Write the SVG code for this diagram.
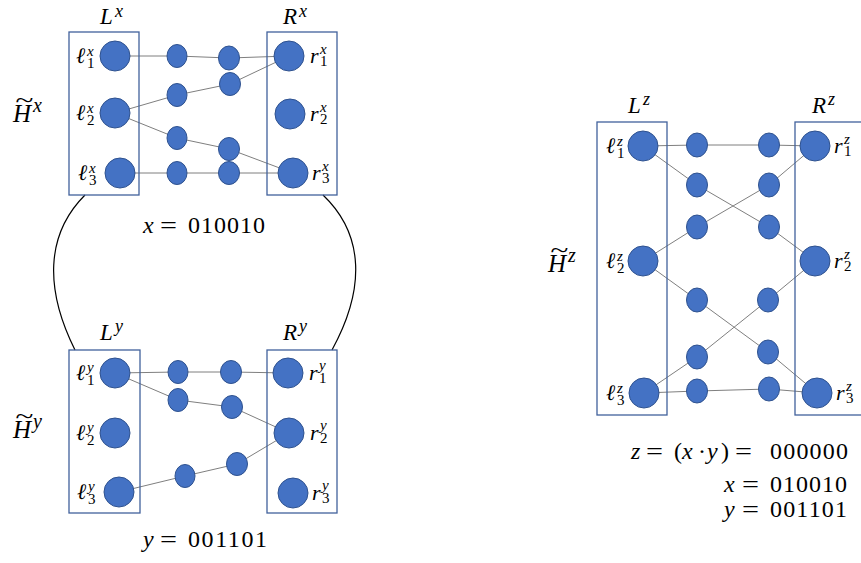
<svg xmlns="http://www.w3.org/2000/svg" width="861" height="563" viewBox="0 0 861 563">
<style>
text{font-family:"Liberation Serif","DejaVu Serif",serif;fill:#000}
.it{font-style:italic}
.big{font-size:23px}
.sup{font-size:18px}
.lab{font-size:22px}
.scr{font-size:15px}
.eq{font-size:24px}
.box{fill:none;stroke:#41619C;stroke-width:1.3}
.n{fill:#4472C4;stroke:#2F528F;stroke-width:1}
.e{stroke:#7F7F7F;stroke-width:1;fill:none}
.c{stroke:#000;stroke-width:1.2;fill:none}
</style>
<rect width="861" height="563" fill="#fff"/>

<!-- connectors -->
<g id="connectors">
  <polyline class="e" points="115,56 177,56 229,58 289,56"/>
  <polyline class="e" points="115,113 177,95 230,84 289,56"/>
  <polyline class="e" points="115,113 177,138 229,149 293,173"/>
  <polyline class="e" points="120,173 177,173 229,173 293,173"/>
  <polyline class="e" points="115,373 178,372 231,372 288,373"/>
  <polyline class="e" points="115,373 178,400 232,407 289,433"/>
  <polyline class="e" points="119,492 185,476 237,464 289,433"/>
  <polyline class="e" points="643,146 697,145 769,145 815,146"/>
  <polyline class="e" points="643,146 697,185 769,227 815,261"/>
  <polyline class="e" points="643,261 697,227 769,185 815,146"/>
  <polyline class="e" points="643,261 697,300 768,352 817,393"/>
  <polyline class="e" points="644,393 697,357 768,300 815,261"/>
  <polyline class="e" points="644,393 697,391 769,389 817,393"/>
  <path class="c" d="M85,195 C45,235 45,290 75,350"/>
  <path class="c" d="M323,195 C365,235 365,290 332,350"/>
</g>

<!-- boxes -->
<g id="Lx"><rect class="box" x="69" y="32" width="70" height="163"/>
  <text class="big it"><tspan x="100" y="24">L</tspan><tspan class="sup" x="115" y="17">x</tspan></text></g>
<g id="Rx"><rect class="box" x="267" y="32" width="70" height="163"/>
  <text class="big it"><tspan x="283" y="24">R</tspan><tspan class="sup" x="299" y="17">x</tspan></text></g>
<g id="Ly"><rect class="box" x="69" y="350" width="71" height="163"/>
  <text class="big it"><tspan x="100" y="340">L</tspan><tspan class="sup" x="115" y="332">y</tspan></text></g>
<g id="Ry"><rect class="box" x="267" y="350" width="70" height="163"/>
  <text class="big it"><tspan x="283" y="340">R</tspan><tspan class="sup" x="299" y="332">y</tspan></text></g>
<g id="Lz"><rect class="box" x="597" y="122" width="70" height="293"/>
  <text class="big it"><tspan x="628" y="113">L</tspan><tspan class="sup" x="643" y="105">z</tspan></text></g>
<g id="Rz"><rect class="box" x="795" y="122" width="70" height="293"/>
  <text class="big it"><tspan x="812" y="113">R</tspan><tspan class="sup" x="828" y="105">z</tspan></text></g>

<!-- graph titles -->
<g id="Hx"><text class="it" font-size="25"><tspan x="15" y="107" font-size="22" textLength="18" lengthAdjust="spacingAndGlyphs">~</tspan><tspan x="13" y="122">H</tspan><tspan x="33" y="112" font-size="20">x</tspan></text></g>
<g id="Hy"><text class="it" font-size="25"><tspan x="15" y="423" font-size="22" textLength="18" lengthAdjust="spacingAndGlyphs">~</tspan><tspan x="13" y="438">H</tspan><tspan x="33" y="428" font-size="20">y</tspan></text></g>
<g id="Hz"><text class="it" font-size="25"><tspan x="550" y="257" font-size="22" textLength="18" lengthAdjust="spacingAndGlyphs">~</tspan><tspan x="548" y="272">H</tspan><tspan x="568" y="262" font-size="20">z</tspan></text></g>

<!-- H^x nodes -->
<g id="lx1"><circle class="n" cx="115" cy="56" r="15"/><text class="lab"><tspan class="it" x="76" y="63">ℓ</tspan><tspan class="scr it" x="87" y="56">x</tspan><tspan class="scr" x="87" y="68">1</tspan></text></g>
<g id="lx2"><circle class="n" cx="115" cy="113" r="15"/><text class="lab"><tspan class="it" x="76" y="120">ℓ</tspan><tspan class="scr it" x="87" y="113">x</tspan><tspan class="scr" x="87" y="125">2</tspan></text></g>
<g id="lx3"><circle class="n" cx="120" cy="173" r="15"/><text class="lab"><tspan class="it" x="78" y="180">ℓ</tspan><tspan class="scr it" x="89" y="173">x</tspan><tspan class="scr" x="89" y="185">3</tspan></text></g>
<g id="rx1"><circle class="n" cx="289" cy="56" r="15"/><text class="lab"><tspan class="it" x="310" y="63">r</tspan><tspan class="scr it" x="320" y="54">x</tspan><tspan class="scr" x="320" y="66">1</tspan></text></g>
<g id="rx2"><circle class="n" cx="290" cy="114" r="15"/><text class="lab"><tspan class="it" x="310" y="121">r</tspan><tspan class="scr it" x="320" y="112">x</tspan><tspan class="scr" x="320" y="124">2</tspan></text></g>
<g id="rx3"><circle class="n" cx="293" cy="173" r="15"/><text class="lab"><tspan class="it" x="312" y="180">r</tspan><tspan class="scr it" x="322" y="171">x</tspan><tspan class="scr" x="322" y="183">3</tspan></text></g>
<g id="sx1"><ellipse class="n" cx="177" cy="56" rx="10" ry="11.5"/></g>
<g id="sx2"><ellipse class="n" cx="229" cy="58" rx="10.5" ry="12"/></g>
<g id="sx3"><ellipse class="n" cx="177" cy="95" rx="10" ry="11.5"/></g>
<g id="sx4"><ellipse class="n" cx="230" cy="84" rx="10.5" ry="11.5"/></g>
<g id="sx5"><ellipse class="n" cx="177" cy="138" rx="10" ry="11.5"/></g>
<g id="sx6"><ellipse class="n" cx="229" cy="149" rx="10.5" ry="11.5"/></g>
<g id="sx7"><ellipse class="n" cx="177" cy="173" rx="10" ry="11.5"/></g>
<g id="sx8"><ellipse class="n" cx="229" cy="173" rx="10.5" ry="11.5"/></g>

<!-- H^y nodes -->
<g id="ly1"><circle class="n" cx="115" cy="373" r="15"/><text class="lab"><tspan class="it" x="76" y="380">ℓ</tspan><tspan class="scr it" x="87" y="372">y</tspan><tspan class="scr" x="87" y="385">1</tspan></text></g>
<g id="ly2"><circle class="n" cx="115" cy="433" r="15"/><text class="lab"><tspan class="it" x="76" y="440">ℓ</tspan><tspan class="scr it" x="87" y="432">y</tspan><tspan class="scr" x="87" y="445">2</tspan></text></g>
<g id="ly3"><circle class="n" cx="119" cy="492" r="15"/><text class="lab"><tspan class="it" x="77" y="499">ℓ</tspan><tspan class="scr it" x="88" y="491">y</tspan><tspan class="scr" x="88" y="504">3</tspan></text></g>
<g id="ry1"><circle class="n" cx="288" cy="373" r="15"/><text class="lab"><tspan class="it" x="309" y="380">r</tspan><tspan class="scr it" x="319" y="370">y</tspan><tspan class="scr" x="319" y="383">1</tspan></text></g>
<g id="ry2"><circle class="n" cx="289" cy="433" r="15"/><text class="lab"><tspan class="it" x="310" y="440">r</tspan><tspan class="scr it" x="320" y="430">y</tspan><tspan class="scr" x="320" y="443">2</tspan></text></g>
<g id="ry3"><circle class="n" cx="293" cy="493" r="15"/><text class="lab"><tspan class="it" x="312" y="500">r</tspan><tspan class="scr it" x="322" y="490">y</tspan><tspan class="scr" x="322" y="503">3</tspan></text></g>
<g id="sy1"><ellipse class="n" cx="178" cy="372" rx="10" ry="11.5"/></g>
<g id="sy2"><ellipse class="n" cx="231" cy="372" rx="10.5" ry="11.5"/></g>
<g id="sy3"><ellipse class="n" cx="178" cy="400" rx="10" ry="11.5"/></g>
<g id="sy4"><ellipse class="n" cx="232" cy="407" rx="10.5" ry="11.5"/></g>
<g id="sy5"><ellipse class="n" cx="185" cy="476" rx="10" ry="11.5"/></g>
<g id="sy6"><ellipse class="n" cx="237" cy="464" rx="10.5" ry="11.5"/></g>

<!-- H^z nodes -->
<g id="lz1"><circle class="n" cx="643" cy="146" r="15"/><text class="lab"><tspan class="it" x="606" y="153">ℓ</tspan><tspan class="scr it" x="617" y="146">z</tspan><tspan class="scr" x="617" y="158">1</tspan></text></g>
<g id="lz2"><circle class="n" cx="643" cy="261" r="15"/><text class="lab"><tspan class="it" x="606" y="268">ℓ</tspan><tspan class="scr it" x="617" y="261">z</tspan><tspan class="scr" x="617" y="273">2</tspan></text></g>
<g id="lz3"><circle class="n" cx="644" cy="393" r="15"/><text class="lab"><tspan class="it" x="606" y="400">ℓ</tspan><tspan class="scr it" x="617" y="393">z</tspan><tspan class="scr" x="617" y="405">3</tspan></text></g>
<g id="rz1"><circle class="n" cx="815" cy="146" r="15"/><text class="lab"><tspan class="it" x="834" y="153">r</tspan><tspan class="scr it" x="844" y="144">z</tspan><tspan class="scr" x="844" y="156">1</tspan></text></g>
<g id="rz2"><circle class="n" cx="815" cy="261" r="15"/><text class="lab"><tspan class="it" x="834" y="268">r</tspan><tspan class="scr it" x="844" y="259">z</tspan><tspan class="scr" x="844" y="271">2</tspan></text></g>
<g id="rz3"><circle class="n" cx="817" cy="393" r="15"/><text class="lab"><tspan class="it" x="836" y="400">r</tspan><tspan class="scr it" x="846" y="391">z</tspan><tspan class="scr" x="846" y="403">3</tspan></text></g>
<g id="sz1"><ellipse class="n" cx="697" cy="145" rx="10.5" ry="12"/></g>
<g id="sz2"><ellipse class="n" cx="769" cy="145" rx="10.5" ry="12"/></g>
<g id="sz3"><ellipse class="n" cx="697" cy="185" rx="10.5" ry="12"/></g>
<g id="sz4"><ellipse class="n" cx="769" cy="185" rx="10.5" ry="12"/></g>
<g id="sz5"><ellipse class="n" cx="697" cy="227" rx="10.5" ry="12"/></g>
<g id="sz6"><ellipse class="n" cx="769" cy="227" rx="10.5" ry="12"/></g>
<g id="sz7"><ellipse class="n" cx="697" cy="300" rx="10.5" ry="12"/></g>
<g id="sz8"><ellipse class="n" cx="768" cy="300" rx="10.5" ry="12"/></g>
<g id="sz9"><ellipse class="n" cx="697" cy="357" rx="10.5" ry="12"/></g>
<g id="sz10"><ellipse class="n" cx="768" cy="352" rx="10.5" ry="12"/></g>
<g id="sz11"><ellipse class="n" cx="697" cy="391" rx="10.5" ry="12"/></g>
<g id="sz12"><ellipse class="n" cx="769" cy="389" rx="10.5" ry="12"/></g>

<!-- equations -->
<g id="eqx"><text class="eq" y="233"><tspan class="it" x="143">x</tspan><tspan x="160" textLength="17" lengthAdjust="spacingAndGlyphs">=</tspan><tspan x="188" textLength="77" lengthAdjust="spacing">010010</tspan></text></g>
<g id="eqy"><text class="eq" y="547"><tspan class="it" x="143">y</tspan><tspan x="160" textLength="17" lengthAdjust="spacingAndGlyphs">=</tspan><tspan x="188" textLength="79" lengthAdjust="spacing">001101</tspan></text></g>
<g id="eqz"><text class="eq" y="459"><tspan class="it" x="631">z</tspan><tspan x="646" textLength="17" lengthAdjust="spacingAndGlyphs">=</tspan><tspan x="674">(</tspan><tspan class="it" x="682">x</tspan><tspan x="698">·</tspan><tspan class="it" x="707">y</tspan><tspan x="721">)</tspan><tspan x="735" textLength="17" lengthAdjust="spacingAndGlyphs">=</tspan><tspan x="770" textLength="78" lengthAdjust="spacing">000000</tspan></text>
<text class="eq" y="492"><tspan class="it" x="724">x</tspan><tspan x="742" textLength="17" lengthAdjust="spacingAndGlyphs">=</tspan><tspan x="770" textLength="77" lengthAdjust="spacing">010010</tspan></text>
<text class="eq" y="517"><tspan class="it" x="724">y</tspan><tspan x="742" textLength="17" lengthAdjust="spacingAndGlyphs">=</tspan><tspan x="770" textLength="77" lengthAdjust="spacing">001101</tspan></text></g>
</svg>
